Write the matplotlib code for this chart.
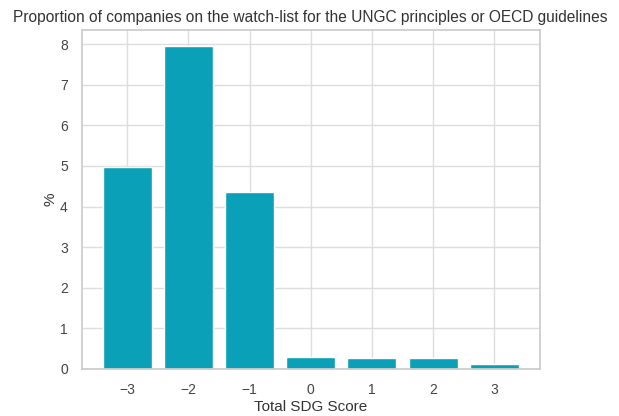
import matplotlib
matplotlib.use('Agg')
import matplotlib.pyplot as plt
import seaborn as sns

# Share of companies on the watch-list, by total SDG score
scores = [-3, -2, -1, 0, 1, 2, 3]
pct = [4.97, 7.95, 4.36, 0.29, 0.27, 0.27, 0.12]

sns.set_theme(style='whitegrid')
plt.rcParams['font.family'] = ['Liberation Sans', 'DejaVu Sans']

fig = plt.figure(figsize=(6.19, 4.16), dpi=100)
ax = fig.add_axes([0.132, 0.113, 0.74, 0.815])
ax.bar(scores, pct, color='#0aa1b8', width=0.8, zorder=2)
ax.set_xticks(scores)
ax.set_xticklabels([str(s).replace('-', '\u2212') for s in scores])
ax.set_yticks(range(0, 9))
ax.set_ylim(0, 8.35)
ax.set_xlabel('Total SDG Score', fontsize=11, labelpad=2, color='#333333')
ax.set_ylabel('%', fontsize=11, labelpad=2, color='#333333')
ax.set_title('Proportion of companies on the watch-list for the UNGC principles or OECD guidelines',
             fontsize=11.2, pad=6, color='#333333')
ax.tick_params(labelsize=10, labelcolor='#444444', pad=4)
ax.grid(color='#dddddd')
for s in ax.spines.values():
    s.set_color('#cccccc')

fig.savefig('out.png', dpi=100)
